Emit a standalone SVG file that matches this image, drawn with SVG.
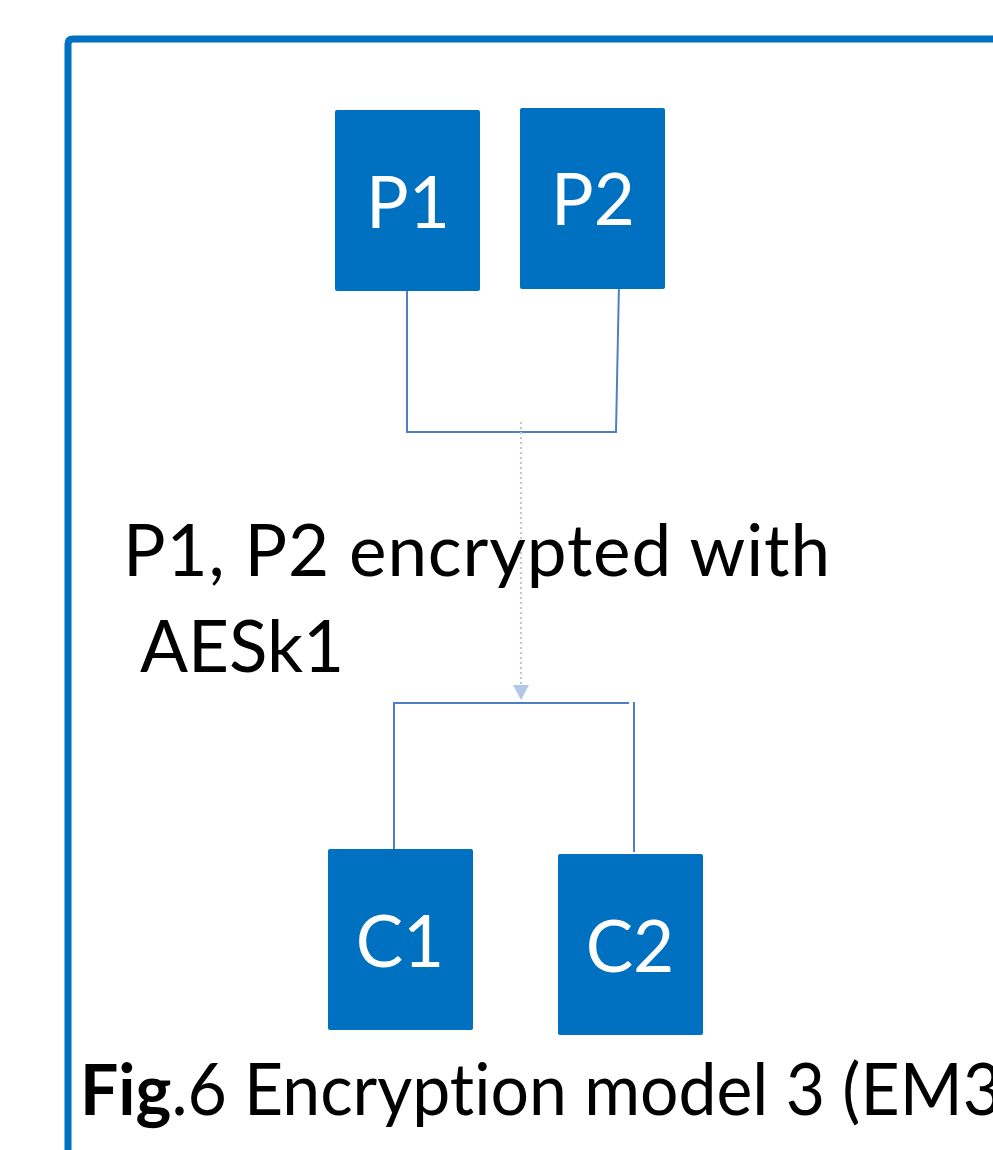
<svg xmlns="http://www.w3.org/2000/svg" width="993" height="1150" viewBox="0 0 993 1150">
  <defs>
    <style>
      .box { fill: #0070C0; }
      .box-label { font-family: Lato, "Open Sans", sans-serif; font-size: 71px; fill: #FFFFFF; text-anchor: middle; }
      .link { fill: none; stroke: #4F7EC6; stroke-width: 2; }
      .flow { fill: none; stroke: #B4C7E7; stroke-width: 2; stroke-dasharray: 2 3; }
      .label { font-family: Lato, "Open Sans", sans-serif; font-size: 71px; fill: #000000; font-variant-ligatures: none; }
    </style>
  </defs>

  <rect width="993" height="1150" fill="#FFFFFF"/>

  <!-- outer frame -->
  <path d="M68,1150 V44 Q68,39 73,39 H993" fill="none" stroke="#0070C0" stroke-width="7"/>

  <!-- connectors -->
  <g id="connectors">
    <path class="link" d="M407,291 V432 H616 L619,283"/>
    <path class="flow" d="M521,422 V686"/>
    <path d="M513,685 L529,685 L521,700 z" fill="#B4C7E7"/>
    <path class="link" d="M394,849 V703 H629"/>
    <path class="link" d="M634,702 V852"/>
  </g>

  <g id="p1">
    <rect class="box" x="335" y="110" width="145" height="181" rx="2"/>
    <text class="box-label" x="408" y="228">P1</text>
  </g>
  <g id="p2">
    <rect class="box" x="520" y="108" width="145" height="181" rx="2"/>
    <text class="box-label" x="593" y="225">P2</text>
  </g>
  <g id="c1">
    <rect class="box" x="328" y="849" width="145" height="181" rx="2"/>
    <text class="box-label" x="400" y="967">C1</text>
  </g>
  <g id="c2">
    <rect class="box" x="558" y="854" width="145" height="181" rx="2"/>
    <text class="box-label" x="630" y="972">C2</text>
  </g>

  <g id="edge-label">
    <text class="label" x="123" y="576" textLength="707" lengthAdjust="spacing">P1, P2 encrypted with</text>
    <text class="label" x="140" y="672">AESk1</text>
  </g>

  <g id="caption">
    <text class="label" x="80" y="1115" textLength="922" lengthAdjust="spacingAndGlyphs"><tspan font-weight="bold">Fig</tspan>.6 Encryption model 3 (EM3</text>
  </g>
</svg>
